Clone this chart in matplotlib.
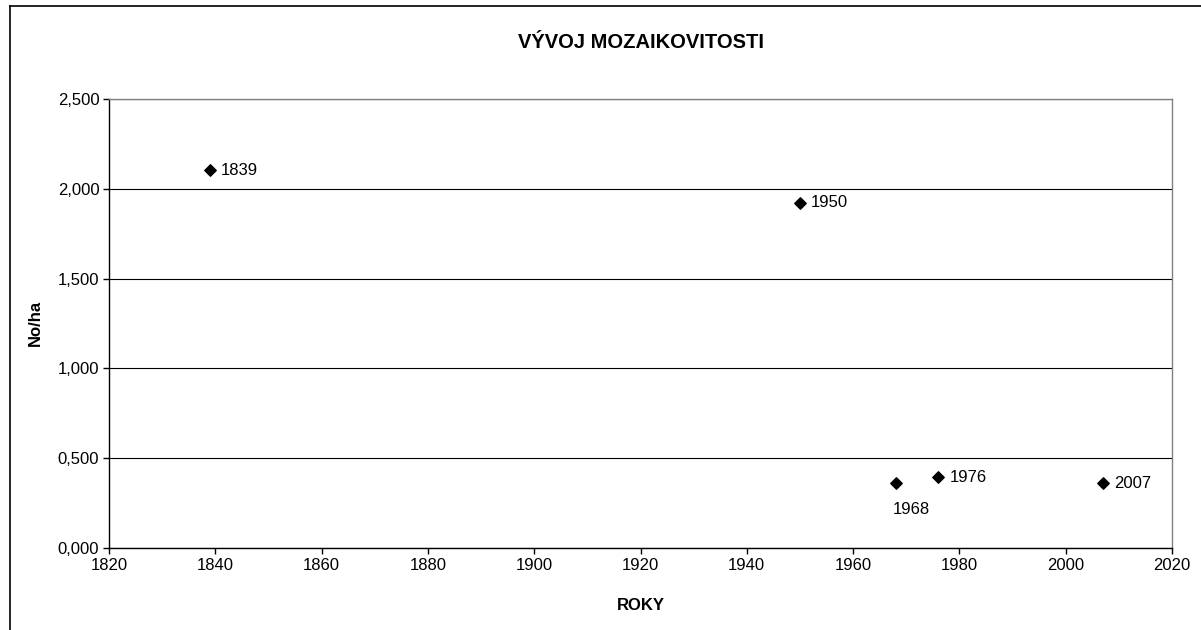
import matplotlib
matplotlib.use("Agg")
import matplotlib.pyplot as plt
from matplotlib.lines import Line2D

plt.rcParams["font.family"] = ["Liberation Sans", "DejaVu Sans"]

# data
years = [1839, 1950, 1968, 1976, 2007]
values = [2.104, 1.923, 0.361, 0.394, 0.361]
point_labels = ["1839", "1950", "1968", "1976", "2007"]
y_ticks = [0.0, 0.5, 1.0, 1.5, 2.0, 2.5]
y_tick_labels = ["0,000", "0,500", "1,000", "1,500", "2,000", "2,500"]
x_ticks = list(range(1820, 2021, 20))

W, H = 1201, 630
fig = plt.figure(figsize=(W / 100, H / 100), dpi=100)
ax = fig.add_axes([109 / W, 1 - 548 / H, (1172 - 109) / W, (548 - 99) / H])

ax.scatter(years, values, marker="D", s=34, color="black", zorder=3)

# point labels: 1968 sits under its marker, others to the right
for x, y, lab in zip(years, values, point_labels):
    if lab == "1968":
        ax.annotate(lab, (x, y), xytext=(-2, -19), textcoords="offset points",
                    ha="left", va="center", fontsize=12)
    else:
        ax.annotate(lab, (x, y), xytext=(8, 0), textcoords="offset points",
                    ha="left", va="center", fontsize=12)

ax.set_xlim(1820, 2020)
ax.set_ylim(0, 2.5)
ax.set_xticks(x_ticks)
ax.set_xticklabels([str(t) for t in x_ticks], fontsize=12)
ax.set_yticks(y_ticks)
ax.set_yticklabels(y_tick_labels, fontsize=12)
ax.tick_params(direction="out", length=4, width=1, color="black", pad=3)
ax.grid(axis="y", color="black", linewidth=0.8)
ax.set_axisbelow(True)

for s in ["left", "bottom"]:
    ax.spines[s].set_color("black")
    ax.spines[s].set_linewidth(1.0)
for s in ["top", "right"]:
    ax.spines[s].set_color("#808080")
    ax.spines[s].set_linewidth(1.0)

fig.text((109 + 1172) / 2 / W, 1 - 42 / H, "VÝVOJ MOZAIKOVITOSTI",
         ha="center", va="center", fontsize=14.5, fontweight="bold")
fig.text((109 + 1172) / 2 / W, 1 - 605 / H, "ROKY",
         ha="center", va="center", fontsize=12, fontweight="bold")
fig.text(35 / W, 1 - 323 / H, "No/ha", rotation=90,
         ha="center", va="center", fontsize=12, fontweight="bold")

# outer chart frame (only left and top edges visible in the crop)
fig.add_artist(Line2D([9.5 / W, 9.5 / W], [0, 1 - 5.5 / H], color="black", linewidth=1.2))
fig.add_artist(Line2D([9.5 / W, 1], [1 - 5.5 / H, 1 - 5.5 / H], color="black", linewidth=1.2))

fig.savefig("out.png", dpi=100)
